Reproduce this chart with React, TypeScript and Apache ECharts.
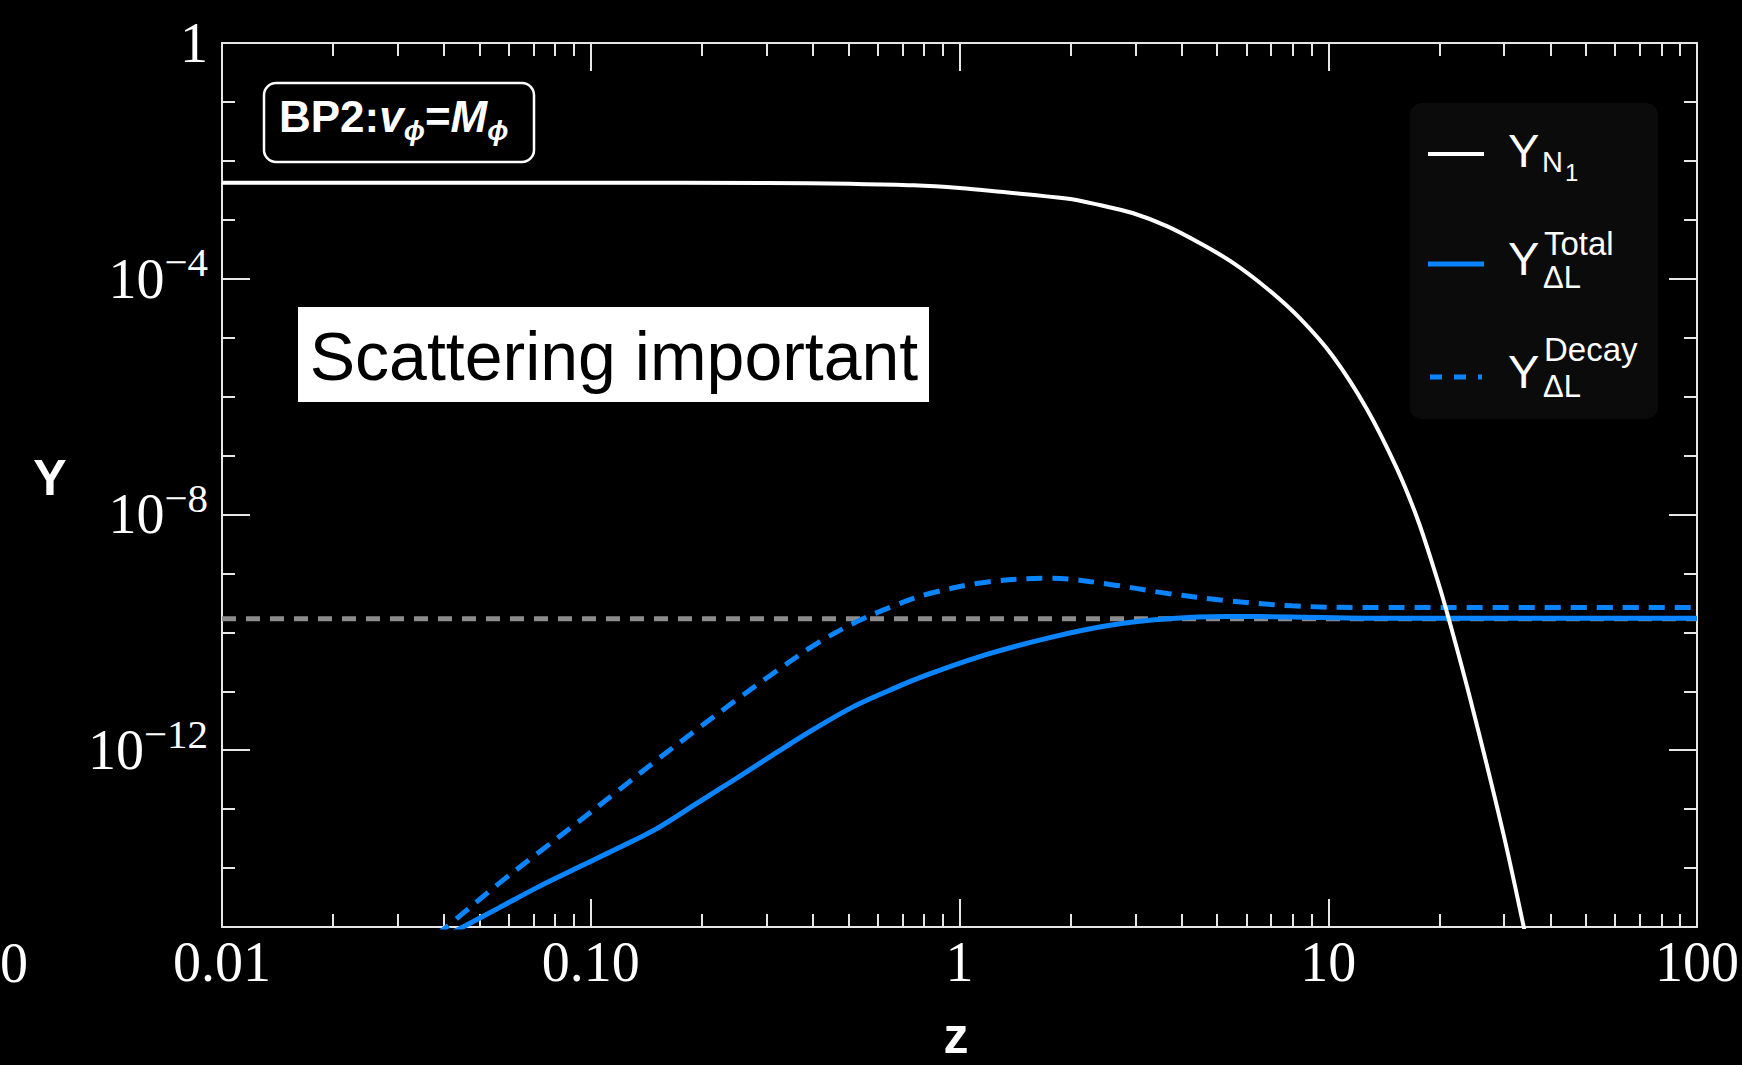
import { useEffect, useRef } from 'react';
import * as echarts from 'echarts';

// ---- data ----
const zN1 = [0.01, 0.1, 0.3, 0.505, 0.75, 1, 1.29, 1.95, 2.4, 2.96, 3.65, 4.49, 5.52, 6.81, 8.37, 10.3, 12.7, 15.3, 17.4, 19.3, 20.9, 24.3, 29.8, 33.9, 36.3];
const yN1 = [4.27e-3, 4.25e-3, 4.22e-3, 4.07e-3, 3.85e-3, 3.47e-3, 2.99e-3, 2.29e-3, 1.78e-3, 1.29e-3, 7.8e-4, 4.0e-4, 1.86e-4, 6.9e-5, 2.14e-5, 4.8e-6, 6.3e-7, 6.3e-8, 8.9e-9, 1.26e-9, 2.4e-10, 7.2e-12, 4.0e-14, 1.0e-15, 1.26e-16];

const zDL = [0.038, 0.0408, 0.0562, 0.0721, 0.0923, 0.118, 0.151, 0.193, 0.248, 0.317, 0.406, 0.519, 0.664, 0.82, 1.18, 1.78, 2.56, 3.67, 5.28, 7.98, 12.6, 100];
const yTotal = [5.6e-16, 7.2e-16, 2.09e-15, 4.8e-15, 1.02e-14, 2.14e-14, 4.68e-14, 1.23e-13, 3.31e-13, 8.9e-13, 2.34e-12, 5.6e-12, 1.12e-11, 1.91e-11, 4.17e-11, 8.3e-11, 1.32e-10, 1.7e-10, 1.86e-10, 1.82e-10, 1.74e-10, 1.74e-10];
const yDecay = [7.2e-16, 1.02e-15, 5.4e-15, 1.82e-14, 6.0e-14, 2.0e-13, 6.8e-13, 2.19e-12, 7.1e-12, 2.14e-11, 6.2e-11, 1.45e-10, 2.82e-10, 4.47e-10, 7.1e-10, 8.3e-10, 6.5e-10, 4.57e-10, 3.47e-10, 2.82e-10, 2.63e-10, 2.63e-10];

const zRef = [0.01, 100];
const yRef = [1.7e-10, 1.7e-10];

const xMajorTicks = [0.01, 0.1, 1, 10, 100];
const xTickLabels = ['0.01', '0.10', '1', '10', '100'];
const xMinorTicks = [
  0.02, 0.03, 0.04, 0.05, 0.06, 0.07, 0.08, 0.09,
  0.2, 0.3, 0.4, 0.5, 0.6, 0.7, 0.8, 0.9,
  2, 3, 4, 5, 6, 7, 8, 9,
  20, 30, 40, 50, 60, 70, 80, 90,
];
const yMajorTicks = [1e-12, 1e-8, 1e-4, 1];
const yMinorTicks = [1e-15, 1e-14, 1e-13, 1e-12, 1e-11, 1e-10, 1e-9, 1e-8, 1e-7, 1e-6, 1e-5, 1e-4, 1e-3, 1e-2, 1e-1, 1];

const BLUE = '#0a84ff';
const AXIS = '#e6e6e6';
const GRID = { left: 222, top: 43, width: 1475, height: 884 };

function xAxisDef(gridIndex: number, position: string, ticks: number[], len: number, withLabels: boolean, showLine: boolean) {
  return {
    type: 'log', logBase: 10, min: 0.01, max: 100, gridIndex, position,
    axisLine: { show: showLine, lineStyle: { color: AXIS, width: 2 } },
    axisTick: { show: true, inside: true, length: len, customValues: ticks, lineStyle: { color: AXIS, width: 2 } },
    axisLabel: withLabels
      ? {
          show: true, customValues: xMajorTicks, margin: 7, color: '#fff',
          fontFamily: 'Liberation Serif', fontSize: 56,
          formatter: (v: number) => xTickLabels[Math.round(Math.log10(v)) + 2],
        }
      : { show: false },
    splitLine: { show: false },
    minorTick: { show: false },
  };
}

function yAxisDef(gridIndex: number, position: string, ticks: number[], len: number, withLabels: boolean, showLine: boolean) {
  return {
    type: 'log', logBase: 10, min: 1e-15, max: 1, gridIndex, position,
    axisLine: { show: showLine, lineStyle: { color: AXIS, width: 2 } },
    axisTick: { show: true, inside: true, length: len, customValues: ticks, lineStyle: { color: AXIS, width: 2 } },
    axisLabel: withLabels
      ? {
          show: true, customValues: yMajorTicks, margin: 14, color: '#fff',
          fontFamily: 'Liberation Serif', fontSize: 56,
          formatter: (v: number) => {
            const e = Math.round(Math.log10(v));
            return e === 0 ? '{one|1}' : '{base|10}{sup|\u2212' + -e + '}';
          },
          rich: {
            one: { fontFamily: 'Liberation Serif', fontSize: 56, color: '#fff' },
            base: { fontFamily: 'Liberation Serif', fontSize: 56, color: '#fff', lineHeight: 74 },
            sup: { fontFamily: 'Liberation Serif', fontSize: 41, color: '#fff', verticalAlign: 'top' },
          },
        }
      : { show: false },
    splitLine: { show: false },
    minorTick: { show: false },
  };
}

const sans = 'Liberation Sans';

function legendText(text: string, x: number, y: number, size: number) {
  return {
    type: 'text', x, y, z: 101,
    style: { text, fill: '#fff', fontFamily: sans, fontSize: size, align: 'left', verticalAlign: 'middle' },
  };
}

export default function App() {
  const ref = useRef<HTMLDivElement>(null);
  useEffect(() => {
    document.body.style.margin = '0';
    document.body.style.background = '#000';
    const chart = echarts.init(ref.current!, undefined, { renderer: 'svg' });
    const option: any = {
      animation: false,
      backgroundColor: '#000',
      grid: [
        { ...GRID, outerBoundsMode: 'none', containLabel: false },
        { ...GRID, outerBoundsMode: 'none', containLabel: false },
      ],
      xAxis: [
        xAxisDef(0, 'bottom', xMajorTicks, 28, true, true),
        xAxisDef(0, 'top', xMajorTicks, 28, false, true),
        xAxisDef(1, 'bottom', xMinorTicks, 13, false, false),
        xAxisDef(1, 'top', xMinorTicks, 13, false, false),
      ],
      yAxis: [
        yAxisDef(0, 'left', yMajorTicks, 28, true, true),
        yAxisDef(0, 'right', yMajorTicks, 28, false, true),
        yAxisDef(1, 'left', yMinorTicks, 13, false, false),
        yAxisDef(1, 'right', yMinorTicks, 13, false, false),
      ],
      series: [
        {
          name: 'Reference', type: 'line', xAxisIndex: 0, yAxisIndex: 0, z: 1,
          data: zRef.map((z, i) => [z, yRef[i]]), showSymbol: false, silent: true,
          lineStyle: { color: '#8c8c8c', width: 5, type: [14, 10] },
        },
        {
          name: 'Y_ΔL^Decay', type: 'line', xAxisIndex: 0, yAxisIndex: 0, z: 2,
          data: zDL.map((z, i) => [z, yDecay[i]]), showSymbol: false, smooth: 0.35,
          lineStyle: { color: BLUE, width: 5, type: [16, 10] },
        },
        {
          name: 'Y_ΔL^Total', type: 'line', xAxisIndex: 0, yAxisIndex: 0, z: 3,
          data: zDL.map((z, i) => [z, yTotal[i]]), showSymbol: false, smooth: 0.35,
          lineStyle: { color: BLUE, width: 5 },
        },
        {
          name: 'Y_N1', type: 'line', xAxisIndex: 0, yAxisIndex: 0, z: 4,
          data: zN1.map((z, i) => [z, yN1[i]]), showSymbol: false, smooth: 0.35,
          lineStyle: { color: '#ffffff', width: 4 },
        },
      ],
      graphic: [
        // axis titles
        { type: 'text', x: 50, y: 478, style: { text: 'Y', fill: '#fff', fontFamily: sans, fontWeight: 'bold', fontSize: 50, align: 'center', verticalAlign: 'middle' } },
        { type: 'text', x: 956, y: 1036, style: { text: 'z', fill: '#fff', fontFamily: sans, fontWeight: 'bold', fontSize: 50, align: 'center', verticalAlign: 'middle' } },
        // stray label from neighbouring panel
        { type: 'text', x: 0, y: 963, style: { text: '0', fill: '#fff', fontFamily: 'Liberation Serif', fontSize: 56, align: 'left', verticalAlign: 'middle' } },
        // BP2 box
        { type: 'rect', z: 100, shape: { x: 264, y: 83, width: 270, height: 79, r: 12 }, style: { fill: '#000', stroke: '#fff', lineWidth: 2.5 } },
        {
          type: 'text', z: 101, x: 279, y: 116,
          style: {
            text: '{b|BP2:}{bi|v}{s|\u03d5}{b|=}{bi|M}{s|\u03d5}',
            fill: '#fff', fontFamily: sans, fontSize: 44, fontWeight: 'bold', align: 'left', verticalAlign: 'middle',
            rich: {
              b: { fill: '#fff', fontFamily: sans, fontSize: 44, fontWeight: 'bold', lineHeight: 56 },
              bi: { fill: '#fff', fontFamily: sans, fontSize: 44, fontWeight: 'bold', fontStyle: 'italic', lineHeight: 56 },
              s: { fill: '#fff', fontFamily: sans, fontSize: 28, fontWeight: 'bold', fontStyle: 'italic', verticalAlign: 'bottom' },
            },
          },
        },
        // Scattering important box
        { type: 'rect', z: 100, shape: { x: 298, y: 307, width: 631, height: 95 }, style: { fill: '#fff' } },
        { type: 'text', z: 101, x: 614, y: 356, style: { text: 'Scattering important', fill: '#000', fontFamily: sans, fontSize: 68, align: 'center', verticalAlign: 'middle' } },
        // legend
        { type: 'rect', z: 100, shape: { x: 1410, y: 103, width: 248, height: 316, r: 12 }, style: { fill: '#0b0b0b' } },
        { type: 'line', z: 101, shape: { x1: 1428, y1: 154, x2: 1484, y2: 154 }, style: { stroke: '#fff', lineWidth: 4 } },
        { type: 'line', z: 101, shape: { x1: 1428, y1: 264, x2: 1484, y2: 264 }, style: { stroke: BLUE, lineWidth: 5 } },
        { type: 'line', z: 101, shape: { x1: 1430, y1: 377, x2: 1482, y2: 377 }, style: { stroke: BLUE, lineWidth: 5, lineDash: [12, 12] } },
        legendText('Y', 1508, 150, 47),
        legendText('N', 1542, 162, 29),
        legendText('1', 1565, 172, 24),
        legendText('Y', 1508, 258, 47),
        legendText('Total', 1544, 243, 33),
        legendText('\u0394L', 1543, 277, 31),
        legendText('Y', 1508, 371, 47),
        legendText('Decay', 1544, 349, 33),
        legendText('\u0394L', 1543, 386, 31),
      ],
    };
    chart.setOption(option);
    return () => chart.dispose();
  }, []);
  return <div ref={ref} style={{ position: 'fixed', left: 0, top: 0, width: 1742, height: 1065 }} />;
}
